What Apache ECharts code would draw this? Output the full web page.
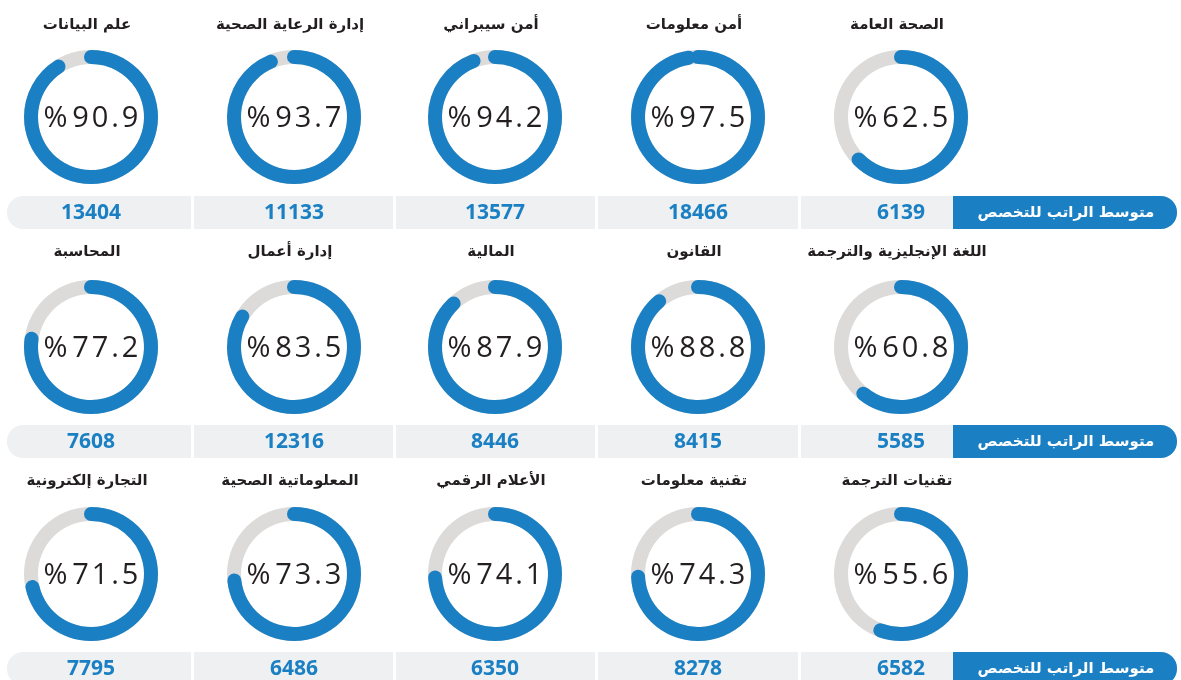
<!DOCTYPE html>
<html>
<head>
<meta charset="utf-8">
<script src="https://cdn.jsdelivr.net/npm/echarts@6/dist/echarts.min.js"></script>
<style>
  html, body { margin: 0; padding: 0; background: #fff; }
  #main { width: 1181px; height: 680px; }
</style>
</head>
<body>
<div id="main"></div>
<script>
// rows go right to left, like the reference
var rowNames = [
  ["الصحة العامة", "أمن معلومات", "أمن سيبراني", "إدارة الرعاية الصحية", "علم البيانات"],
  ["اللغة الإنجليزية والترجمة", "القانون", "المالية", "إدارة أعمال", "المحاسبة"],
  ["تقنيات الترجمة", "تقنية معلومات", "الأعلام الرقمي", "المعلوماتية الصحية", "التجارة إلكترونية"]
];
var rowPercents = [
  [62.5, 97.5, 94.2, 93.7, 90.9],
  [60.8, 88.8, 87.9, 83.5, 77.2],
  [55.6, 74.3, 74.1, 73.3, 71.5]
];
var rowSalaries = [
  [6139, 18466, 13577, 11133, 13404],
  [5585, 8415, 8446, 12316, 7608],
  [6582, 8278, 6350, 6486, 7795]
];
var salaryLabel = "متوسط الراتب للتخصص";

var BLUE = "#1b80c3";
var TRACK = "#dcdbda";
var colX = [901, 698, 495, 294, 91];
var rowY = [117, 347, 574];
var titleY = [25, 252, 481];
var barY = [196, 425, 652];
var barH = 33;

var chart = echarts.init(document.getElementById("main"));

function pctText(v) {
  var s = v.toFixed(1).split("").join("\u200A");
  return "%\u2009" + s;
}

var series = [];
var graphic = [];

rowPercents.forEach(function (row, r) {
  row.forEach(function (p, c) {
    series.push({
      type: "gauge",
      center: [colX[c], rowY[r]],
      radius: 67,
      startAngle: 90,
      endAngle: -270,
      min: 0,
      max: 100,
      clockwise: true,
      pointer: { show: false },
      anchor: { show: false },
      axisTick: { show: false },
      splitLine: { show: false },
      axisLabel: { show: false },
      axisLine: { lineStyle: { width: 14, color: [[1, TRACK]] } },
      progress: { show: true, width: 14, roundCap: true, itemStyle: { color: BLUE } },
      title: { show: false },
      detail: {
        offsetCenter: [0, 2],
        fontSize: 29,
        fontWeight: "normal",
        fontFamily: "Open Sans",
        color: "#231f20",
        formatter: pctText
      },
      data: [{ value: p, name: rowNames[r][c] }]
    });

    graphic.push({
      type: "text",
      x: colX[c] - 4,
      y: titleY[r],
      style: {
        text: rowNames[r][c],
        align: "center",
        verticalAlign: "middle",
        font: "bold 15px 'DejaVu Sans'",
        fill: "#231f20"
      }
    });
  });

  // gray salary cells
  for (var c = 0; c < 5; c++) {
    var right = c === 0 ? 1000 : (colX[c - 1] + colX[c]) / 2 - 1.5;
    var left = c === 4 ? 7 : (colX[c] + colX[c + 1]) / 2 + 1.5;
    graphic.push({
      type: "rect",
      shape: { x: left, y: barY[r], width: right - left, height: barH, r: c === 4 ? [16, 0, 0, 16] : 0 },
      style: { fill: "#eef0f2" }
    });
    graphic.push({
      type: "text",
      x: colX[c],
      y: barY[r] + barH / 2 + 1,
      style: {
        text: String(rowSalaries[r][c]),
        align: "center",
        verticalAlign: "middle",
        font: "bold 21px 'Open Sans'",
        fill: BLUE
      }
    });
  }

  // blue label
  graphic.push({
    type: "rect",
    shape: { x: 953, y: barY[r], width: 224, height: barH, r: [0, 16, 16, 0] },
    style: { fill: BLUE }
  });
  graphic.push({
    type: "text",
    x: 1066,
    y: barY[r] + barH / 2 + 1,
    style: {
      text: salaryLabel,
      align: "center",
      verticalAlign: "middle",
      font: "bold 15px 'DejaVu Sans'",
      fill: "#fff"
    }
  });
});

chart.setOption({
  animation: false,
  series: series,
  graphic: graphic
});
</script>
</body>
</html>
